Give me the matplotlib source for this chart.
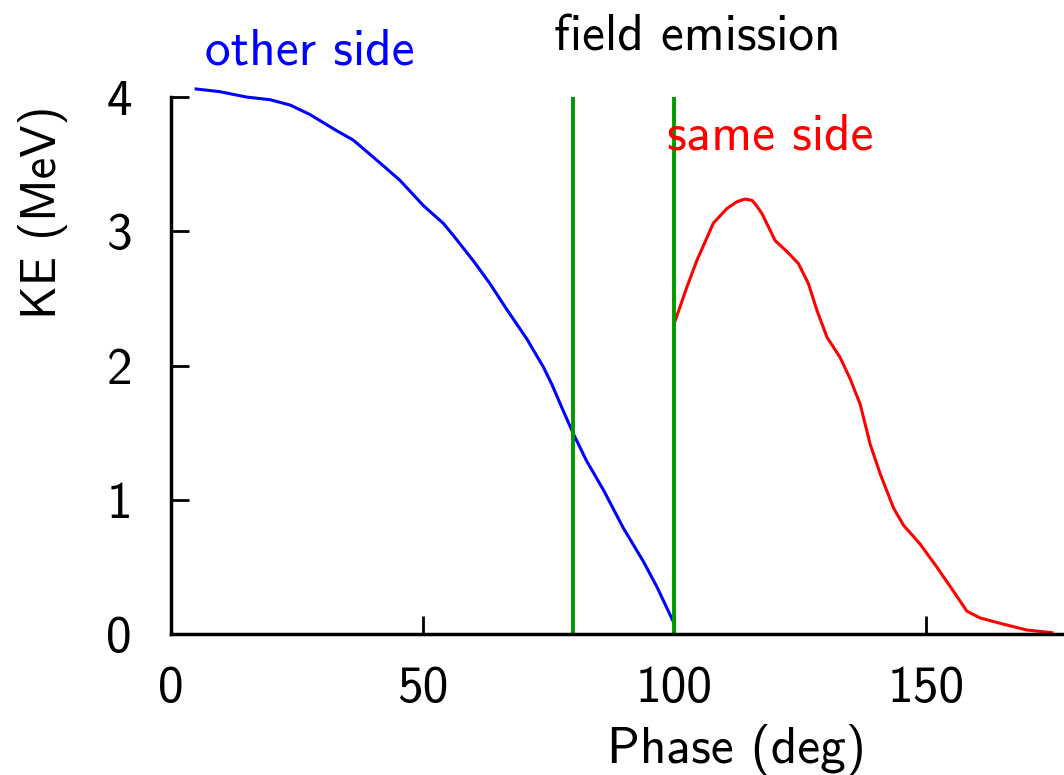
import matplotlib
matplotlib.use("Agg")
import matplotlib.pyplot as plt

# phase (deg) / kinetic energy (MeV)
other_x = [5, 9.7, 15, 19.7, 23.7, 27.6, 32.9, 36.2, 40.9, 45.5, 50.2, 54.1,
           56.1, 60.1, 63.4, 66.7, 70.7, 74.0, 75.7, 78.0, 80.0, 82.6, 86.0,
           89.9, 93.9, 96.6, 100]
other_ke = [4.06, 4.04, 4.00, 3.98, 3.94, 3.87, 3.75, 3.68, 3.53, 3.38, 3.19,
            3.06, 2.97, 2.78, 2.61, 2.42, 2.20, 1.99, 1.86, 1.66, 1.49, 1.29,
            1.07, 0.79, 0.54, 0.35, 0.08]

same_x = [100, 102.5, 104.5, 107.8, 110.5, 112.5, 114.1, 115.5, 116.4, 117.5,
          118.4, 120.1, 122.4, 124.7, 126.7, 128.4, 130.4, 133.0, 135.0, 137.0,
          139.0, 141.0, 143.6, 145.6, 148.9, 152.2, 155.5, 158.2, 160.8, 164.8,
          170.1, 175.1]
same_ke = [2.31, 2.58, 2.78, 3.06, 3.17, 3.22, 3.24, 3.23, 3.19, 3.13,
           3.06, 2.93, 2.85, 2.76, 2.61, 2.41, 2.21, 2.06, 1.90, 1.71,
           1.41, 1.19, 0.94, 0.81, 0.67, 0.50, 0.32, 0.17, 0.12, 0.08,
           0.03, 0.01]

emission_phase = [80, 100]
xticks = [0, 50, 100, 150]
yticks = [0, 1, 2, 3, 4]

plt.rcParams['font.family'] = ['cmss10', 'DejaVu Sans']
plt.rcParams['axes.unicode_minus'] = False

fig = plt.figure(figsize=(10.64, 7.75), dpi=100)
ax = fig.add_axes([0.1607, 0.1819, 1 - 0.1607, 0.6929])

ax.plot(other_x, other_ke, color='#0000ff', lw=2.2, clip_on=False)
ax.plot(same_x, same_ke, color='#ff0000', lw=2.2, clip_on=False)
ax.vlines(emission_phase, 0, 4, color='#009900', lw=2.8)

ax.set_xlim(0, 177.5)
ax.set_ylim(0, 4)
ax.set_xticks(xticks)
ax.set_yticks(yticks)
ax.tick_params(direction='in', length=13, width=2, labelsize=37)
ax.tick_params(axis='x', pad=23)
ax.tick_params(axis='y', pad=28)

for s in ['top', 'right']:
    ax.spines[s].set_visible(False)
for s in ['left', 'bottom']:
    ax.spines[s].set_linewidth(2.5)

ax.set_xlabel("Phase (deg)", fontsize=37)
ax.xaxis.label.set_verticalalignment('baseline')
ax.xaxis.set_label_coords(0.633, -0.241)
ax.set_ylabel("KE (MeV)", fontsize=35)
ax.yaxis.set_label_coords(-0.115, 0.785)

ax.text(27.6, 4.24, "other side", color='#0000ff', fontsize=37,
        ha='center', va='baseline')
ax.text(104.6, 4.35, "field emission", color='black', fontsize=37,
        ha='center', va='baseline')
ax.text(119.1, 3.61, "same side", color='#ff0000', fontsize=37,
        ha='center', va='baseline')

fig.savefig("out.png", dpi=100)
